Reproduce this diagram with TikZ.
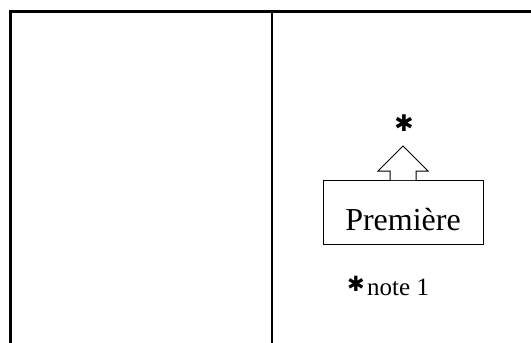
\documentclass[tikz,border=0pt]{standalone}
\usepackage{fontspec}
\setmainfont{Liberation Serif}
\newfontfamily\symfont{DejaVu Sans}
\begin{document}
\begin{tikzpicture}[x=1pt,y=-1pt,
  frame/.style={line width=3pt},
  divider/.style={line width=2pt},
  thin/.style={line width=1pt},
  boxstyle/.style={draw,line width=1pt,minimum width=160pt,minimum height=64pt,inner sep=0pt,text height=36pt,text depth=0pt,font=\fontsize{32}{36}\selectfont},
  starstyle/.style={inner sep=0pt,font=\symfont\fontsize{23}{23}\selectfont}]
\useasboundingbox (0,0) rectangle (531,343);
\begin{scope}
\clip (0,0) rectangle (531,343);
\draw[frame] (10.5,360) -- (10.5,11) -- (560,11);
\draw[divider] (272,11) -- (272,360);
\end{scope}
\node[boxstyle] (box) at (403,212) {Première};
\node[starstyle] (star) at (404,123) {✱};
\coordinate (tip) at (403,146);
\draw[thin,fill=white] (390,180) -- (390,171) -- (378,171) -- (tip) -- (428,171) -- (416,171) -- (416,180);
\node[starstyle,anchor=center,font=\symfont\fontsize{21}{21}\selectfont] (nstar) at (356,283.5) {✱};
\node[anchor=base west,inner sep=0pt,font=\fontsize{25}{28}\selectfont] (note) at (367,295.5) {note 1};
\end{tikzpicture}
\end{document}
